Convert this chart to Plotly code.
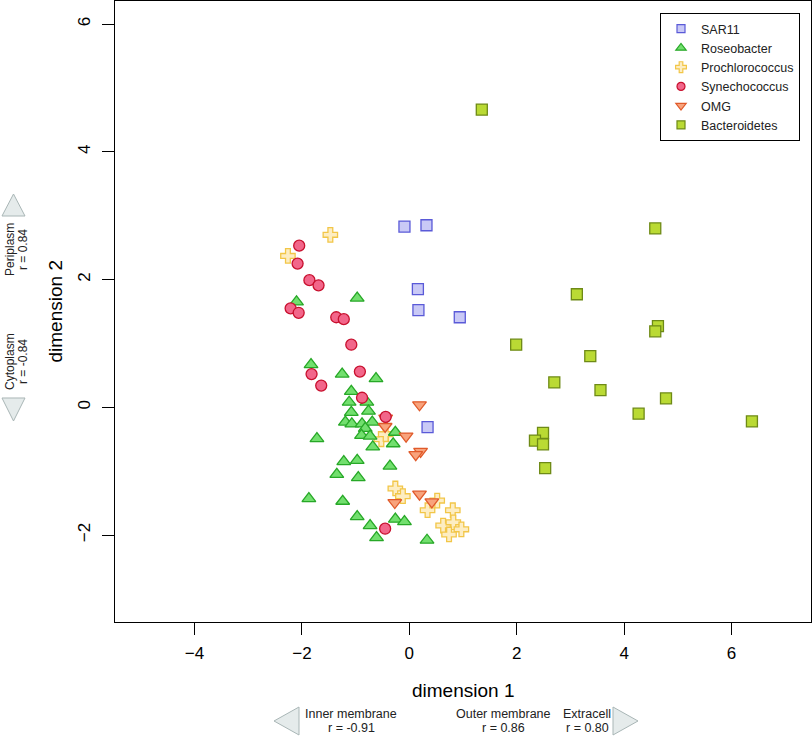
import plotly.graph_objects as go

# ---------------- data ----------------
sar11_x = [-0.09, 0.32, 0.16, 0.17, 0.94, 0.34]
sar11_y = [2.83, 2.85, 1.85, 1.52, 1.41, -0.31]

roseo_x = [-2.10, -0.97, -1.83, -1.25, -0.62, -1.08, -1.12, -0.79, -1.08, -0.76,
           -1.19, -1.07, -0.88, -0.69, -0.82, -0.89, -0.73, -0.68, -0.30, -0.26,
           -1.72, -1.22, -0.97, -0.36, -1.35, -0.95, -1.87, -1.24, -0.97, -0.73,
           -0.61, -0.26, -0.09, 0.33]
roseo_y = [1.65, 1.71, 0.67, 0.52, 0.45, 0.25, 0.08, 0.08, -0.08, -0.06,
           -0.23, -0.26, -0.26, -0.23, -0.33, -0.44, -0.45, -0.62, -0.57, -0.39,
           -0.49, -0.85, -0.83, -0.92, -1.05, -1.10, -1.43, -1.47, -1.71, -1.85,
           -2.04, -1.75, -1.79, -2.08]

prochl_x = [-2.26, -1.47, -0.52, -0.44, -0.26, -0.12, 0.34, 0.52, 0.81, 0.63, 0.82, 0.97, 0.74]
prochl_y = [2.37, 2.70, -0.50, -0.42, -1.27, -1.39, -1.61, -1.46, -1.61, -1.85, -1.80, -1.91, -1.99]

synech_x = [-2.05, -2.08, -1.86, -1.69, -2.21, -2.06, -1.36, -1.22, -1.08, -0.92,
            -1.82, -1.64, -0.88, -0.44, -0.45]
synech_y = [2.53, 2.25, 1.99, 1.91, 1.55, 1.48, 1.41, 1.38, 0.98, 0.56,
            0.52, 0.34, 0.15, -0.15, -1.90]

omg_x = [0.19, -0.44, -0.45, -0.06, 0.21, 0.12, 0.19, -0.27, 0.42]
omg_y = [0.04, -0.17, -0.30, -0.45, -0.69, -0.74, -1.36, -1.49, -1.48]

bact_x = [1.35, 4.58, 3.12, 4.63, 4.58, 1.99, 3.37, 2.70, 3.56, 4.78,
          4.27, 6.38, 2.49, 2.34, 2.49, 2.53]
bact_y = [4.66, 2.80, 1.77, 1.27, 1.19, 0.98, 0.80, 0.39, 0.27, 0.14,
          -0.10, -0.22, -0.40, -0.52, -0.58, -0.95]

group_names = ["SAR11", "Roseobacter", "Prochlorococcus", "Synechococcus", "OMG", "Bacteroidetes"]
x_ticks = [-4, -2, 0, 2, 4, 6]
y_ticks = [-2, 0, 2, 4, 6]

# ---------------- style ----------------
FONT = "Liberation Sans, Arial, Helvetica, sans-serif"
styles = {
    "SAR11": dict(symbol="square", size=11, color="#c9c9f6", line="#5a5ad8"),
    "Roseobacter": dict(symbol="triangle-up", size=12, color="#72df6e", line="#27a827"),
    "Prochlorococcus": dict(symbol="cross", size=12, color="#fdedc2", line="#f2c648"),
    "Synechococcus": dict(symbol="circle", size=11, color="#f2668a", line="#c8102e"),
    "OMG": dict(symbol="triangle-down", size=12, color="#f8a37c", line="#e05a2a"),
    "Bacteroidetes": dict(symbol="square", size=11, color="#bada34", line="#6e8a16"),
}
data = {
    "SAR11": (sar11_x, sar11_y),
    "Roseobacter": (roseo_x, roseo_y),
    "Prochlorococcus": (prochl_x, prochl_y),
    "Synechococcus": (synech_x, synech_y),
    "OMG": (omg_x, omg_y),
    "Bacteroidetes": (bact_x, bact_y),
}

fig = go.Figure()
for name in ["Prochlorococcus", "Roseobacter", "OMG", "Synechococcus", "SAR11", "Bacteroidetes"]:
    st = styles[name]
    xs, ys = data[name]
    fig.add_trace(go.Scatter(
        x=xs, y=ys, mode="markers", name=name, showlegend=False,
        marker=dict(symbol=st["symbol"], size=st["size"], color=st["color"],
                    line=dict(color=st["line"], width=1.3)),
    ))
for name in group_names:
    st = styles[name]
    fig.add_trace(go.Scatter(
        x=[None], y=[None], mode="markers", name=name,
        marker=dict(symbol=st["symbol"], size=st["size"] - 3, color=st["color"],
                    line=dict(color=st["line"], width=1.2)),
    ))

L, R, T, B = 115, 1, 1, 114
W = 812 - L - R
H = 736 - T - B


def px(xp):
    return (xp - L) / W


def py(yp):
    return (736 - B - yp) / H


tri_fill = "#e5ebeb"
tri_line = "#a9b6b6"
shapes = []


def tri(points):
    path = "M " + " L ".join(f"{px(a):.5f},{py(b):.5f}" for a, b in points) + " Z"
    shapes.append(dict(type="path", xref="paper", yref="paper", path=path,
                       fillcolor=tri_fill, line=dict(color=tri_line, width=1)))


tri([(2, 216), (25, 216), (13.5, 194)])
tri([(2, 398), (25, 398), (13.5, 421)])
tri([(299, 707), (299, 735), (274, 721)])
tri([(613, 707), (613, 735), (638, 721)])

annos = []


def txt(x, y, s, size=12.5, angle=0):
    annos.append(dict(xref="paper", yref="paper", x=px(x), y=py(y), text=s,
                      textangle=angle, showarrow=False,
                      font=dict(family=FONT, size=size, color="#222"),
                      xanchor="center", yanchor="middle"))


# left rotated notes
txt(10, 250, "Periplasm", size=12, angle=-90)
txt(23, 250, "r = 0.84", size=12, angle=-90)
txt(10, 362, "Cytoplasm", size=12, angle=-90)
txt(23, 362, "r = -0.84", size=12, angle=-90)
# bottom notes
txt(351, 714, "Inner membrane")
txt(351, 728, "r = -0.91")
txt(503, 714, "Outer membrane")
txt(503, 728, "r = 0.86")
txt(587, 714, "Extracell")
txt(587, 728, "r = 0.80")
# axis titles
annos.append(dict(xref="paper", yref="paper", x=0.5, y=py(690), text="dimension 1", showarrow=False,
                  font=dict(family=FONT, size=19, color="black"), xanchor="center", yanchor="middle"))
annos.append(dict(xref="paper", yref="paper", x=px(55), y=0.5, text="dimension 2", showarrow=False,
                  textangle=-90, font=dict(family=FONT, size=19, color="black"),
                  xanchor="center", yanchor="middle"))

fig.update_layout(
    width=812, height=736,
    margin=dict(l=L, r=R, t=T, b=B, autoexpand=False),
    paper_bgcolor="white", plot_bgcolor="white",
    font=dict(family=FONT, color="black"),
    shapes=shapes, annotations=annos,
    legend=dict(x=px(800), y=py(13), xanchor="right", yanchor="top",
                bordercolor="black", borderwidth=1, bgcolor="white",
                font=dict(family=FONT, size=12.5, color="#222"),
                tracegroupgap=0, itemwidth=30),
)
fig.update_xaxes(
    range=[-5.48, 7.48], tickvals=x_ticks, ticktext=[f"{v}".replace("-", "\u2212") for v in x_ticks],
    showgrid=False, zeroline=False, showline=True, linecolor="black", linewidth=1, mirror=True,
    ticks="outside", ticklen=12, tickcolor="black", tickfont=dict(size=17, family=FONT),
    automargin=False, ticklabelstandoff=4,
)
fig.update_yaxes(
    range=[-3.36, 6.36], tickvals=y_ticks, ticktext=[f"{v}".replace("-", "\u2212") for v in y_ticks],
    showgrid=False, zeroline=False, showline=True, linecolor="black", linewidth=1, mirror=True,
    ticks="outside", ticklen=12, tickcolor="black", tickangle=-90, tickfont=dict(size=17, family=FONT),
    automargin=False, ticklabelstandoff=5,
)

fig.write_html("out.html",
               config={"displayModeBar": False},
               post_script="document.body.style.margin='0';document.body.style.overflow='hidden';")
